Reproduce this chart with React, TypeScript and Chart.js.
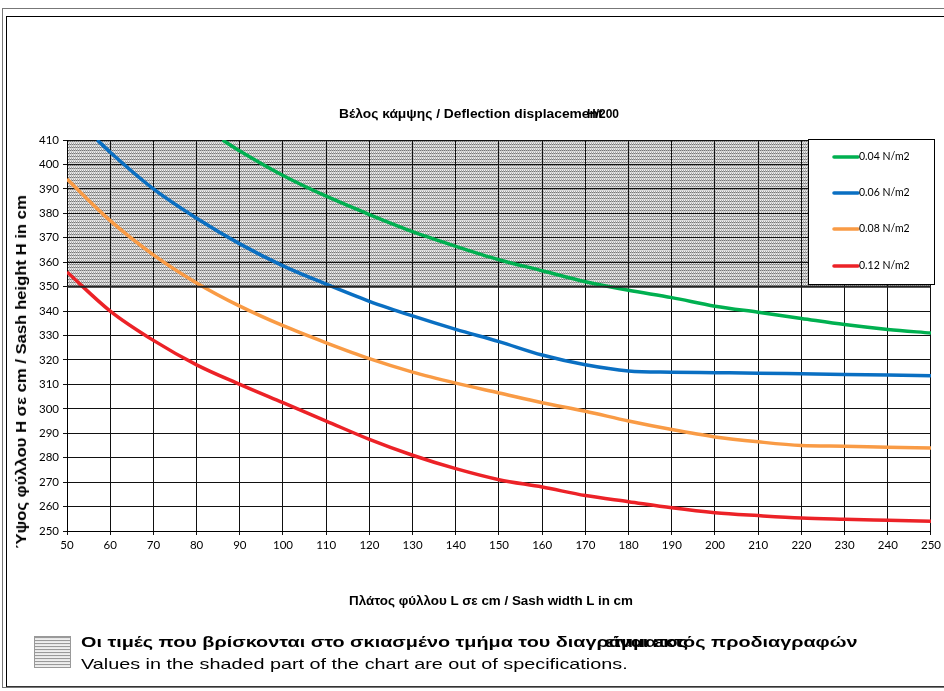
import React, { useEffect, useRef } from "react";
import { Chart, registerables } from "chart.js";

Chart.register(...registerables);

// ---- Data ----
const seriesLabels = ["0.04 N/m2", "0.06 N/m2", "0.08 N/m2", "0.12 N/m2"];
const seriesColors = ["#00B050", "#0A6FC2", "#F99B45", "#EC2227"];

const greenL = [86, 90, 100, 110, 120, 130, 140, 150, 160, 170, 180, 190, 200, 210, 220, 230, 240, 250];
const greenH = [410, 405.5, 395.5, 387, 379.5, 372.5, 366.5, 361, 356.5, 352, 348.5, 345.5, 342, 339.5, 337, 334.5, 332.5, 331];

const blueL = [57, 60, 70, 80, 90, 100, 110, 120, 130, 140, 150, 160, 170, 180, 190, 200, 210, 220, 230, 240, 250];
const blueH = [410, 405, 390, 378, 367.5, 358.5, 351, 344, 338, 332.5, 327.5, 322, 318, 315.5, 315, 314.8, 314.6, 314.3, 314, 313.8, 313.5];

const orangeL = [50, 60, 70, 80, 90, 100, 110, 120, 130, 140, 150, 160, 170, 180, 190, 200, 210, 220, 230, 240, 250];
const orangeH = [394, 377, 363, 351.5, 342, 334, 327, 320.5, 315, 310.5, 306.5, 302.5, 299, 295, 291.5, 288.5, 286.5, 285, 284.7, 284.3, 284];

const redL = [50, 60, 70, 80, 90, 100, 110, 120, 130, 140, 150, 160, 170, 180, 190, 200, 210, 220, 230, 240, 250];
const redH = [356, 340, 328, 318, 310, 302.5, 295, 287.5, 281, 275.5, 271, 268, 264.5, 262, 259.5, 257.5, 256.3, 255.3, 254.8, 254.4, 254];

const xMin = 50;
const xMax = 250;
const yMin = 250;
const yMax = 410;
const tickStep = 10;
const shadedFrom = 350; // out-of-spec band: 350 .. 410

const titleText = "Βέλος κάμψης  / Deflection displacement";
const titleOverlay = "H/200";
const yAxisTitle = "Ύψος φύλλου H σε cm / Sash height H in cm";
const xAxisTitle = "Πλάτος φύλλου L σε cm / Sash width L in cm";
const noteGreek = "Οι τιμές που βρίσκονται στο σκιασμένο τμήμα του διαγράμματος";
const noteGreekOverlay = "είναι εκτός προδιαγραφών";
const noteEnglish = "Values in the shaded part of the chart are out of specifications.";

const toPoints = (xs: number[], ys: number[]) => xs.map((x, i) => ({ x, y: ys[i] }));

function makeHatch(ctx: CanvasRenderingContext2D) {
  const c = document.createElement("canvas");
  c.width = 2;
  c.height = 3;
  const g = c.getContext("2d")!;
  const px = [
    ["#767676", "#b0b0b0"],
    ["#dedede", "#d0d0d0"],
    ["#f2f2f2", "#a4a4a4"],
  ];
  for (let y = 0; y < 3; y++)
    for (let x = 0; x < 2; x++) {
      g.fillStyle = px[y][x];
      g.fillRect(x, y, 1, 1);
    }
  return ctx.createPattern(c, "repeat");
}

const shadePlugin = {
  id: "shade",
  beforeDraw(chart: any) {
    const { ctx, chartArea } = chart;
    const ys = chart.scales.y;
    const top = ys.getPixelForValue(yMax);
    const bot = ys.getPixelForValue(shadedFrom);
    ctx.save();
    const p = makeHatch(ctx);
    if (p) ctx.fillStyle = p;
    ctx.fillRect(chartArea.left, top, chartArea.right - chartArea.left, bot - top);
    ctx.restore();
  },
  afterDraw(chart: any) {
    const { ctx, chartArea } = chart;
    const ys = chart.scales.y;
    const bot = ys.getPixelForValue(shadedFrom);
    ctx.save();
    ctx.strokeStyle = "#222";
    ctx.lineWidth = 2;
    ctx.beginPath();
    ctx.moveTo(chartArea.left, bot);
    ctx.lineTo(chartArea.right, bot);
    ctx.stroke();
    // legend box
    const bx = chartArea.right - 123;
    const by = chartArea.top - 1;
    const bw = 126;
    const bh = 145;
    ctx.fillStyle = "#fff";
    ctx.fillRect(bx, by, bw, bh);
    ctx.strokeStyle = "#000";
    ctx.lineWidth = 1;
    ctx.strokeRect(bx + 0.5, by + 0.5, bw, bh);
    const offs = [18, 54, 90, 127];
    chart.data.datasets.forEach((ds: any, i: number) => {
      const cy = by + offs[i];
      ctx.strokeStyle = ds.borderColor;
      ctx.lineWidth = 3.5;
      ctx.lineCap = "round";
      ctx.beginPath();
      ctx.moveTo(bx + 26, cy);
      ctx.lineTo(bx + 50, cy);
      ctx.stroke();
      ctx.fillStyle = "#000";
      ctx.font = "10.5px Lato";
      ctx.textBaseline = "middle";
      ctx.textAlign = "left";
      ctx.fillText(ds.label, bx + 51, cy);
    });
    ctx.restore();
  },
};

export default function App() {
  const ref = useRef<HTMLCanvasElement>(null);

  useEffect(() => {
    if (!ref.current) return;
    const datasets = [
      toPoints(greenL, greenH),
      toPoints(blueL, blueH),
      toPoints(orangeL, orangeH),
      toPoints(redL, redH),
    ].map((data, i) => ({
      label: seriesLabels[i],
      data,
      borderColor: seriesColors[i],
      backgroundColor: seriesColors[i],
      borderWidth: 3.5,
      pointRadius: 0,
      cubicInterpolationMode: "monotone" as const,
      fill: false,
    }));

    const chart = new Chart(ref.current, {
      type: "line",
      data: { datasets },
      plugins: [shadePlugin],
      options: {
        responsive: false,
        animation: false,
        events: [],
        layout: { padding: { top: 140, right: 13, left: 0, bottom: 0 } },
        plugins: { legend: { display: false }, tooltip: { enabled: false } },
        scales: {
          x: {
            type: "linear",
            min: xMin,
            max: xMax,
            afterFit: (s: any) => {
              s.height = 160;
            },
            ticks: {
              stepSize: tickStep,
              color: "#000",
              font: { family: "Lato", size: 11.5 },
              padding: 3,
              maxRotation: 0,
            },
            grid: { color: "#111", lineWidth: 1, tickLength: 4 },
            border: { color: "#000", width: 1 },
          },
          y: {
            type: "linear",
            min: yMin,
            max: yMax,
            afterFit: (s: any) => {
              s.width = 67;
            },
            ticks: {
              stepSize: tickStep,
              color: "#000",
              font: { family: "Lato", size: 11.5 },
              padding: 4,
            },
            grid: { color: "#111", lineWidth: 1, tickLength: 4 },
            border: { color: "#000", width: 1 },
          },
        },
      },
    });
    return () => chart.destroy();
  }, []);

  const arialB = (px: number) => `bold ${px}px 'Liberation Sans', Arial, sans-serif`;
  const nowrap = { whiteSpace: "nowrap" as const };
  return (
    <div style={{ position: "absolute", left: 0, top: 0, width: 944, height: 691, overflow: "hidden", background: "#fff" }}>
      <div style={{ position: "absolute", left: 2, top: 8, width: 1000, height: 680, border: "1.5px solid #777", boxSizing: "border-box" }} />
      <div style={{ position: "absolute", left: 6, top: 16, width: 1000, height: 671, borderTop: "1.5px solid #000", borderLeft: "1px solid #000", borderBottom: "1px solid #333", boxSizing: "border-box" }} />
      <canvas ref={ref} width={944} height={691} style={{ position: "absolute", left: 0, top: 0 }} />
      <div style={{ ...nowrap, position: "absolute", left: 339, top: 108, font: arialB(12), lineHeight: "12px", transform: "scaleX(1.15)", transformOrigin: "left center" }}>
        {titleText}
      </div>
      <div style={{ ...nowrap, position: "absolute", left: 587, top: 108, font: arialB(12), lineHeight: "12px" }}>{titleOverlay}</div>
      <div
        style={{
          ...nowrap,
          position: "absolute",
          left: 21,
          top: 372,
          font: arialB(14),
          lineHeight: "14px",
          transform: "translate(-50%, -50%) rotate(-90deg) scaleX(1.19)",
        }}
      >
        {yAxisTitle}
      </div>
      <div style={{ ...nowrap, position: "absolute", left: 491, top: 600, font: arialB(13.4), transform: "translate(-50%, -50%)" }}>
        {xAxisTitle}
      </div>
      <div
        style={{
          position: "absolute",
          left: 34,
          top: 636,
          width: 37,
          height: 32,
          boxSizing: "border-box",
          border: "1px solid #999",
          background: "repeating-linear-gradient(to bottom, #9a9a9a 0px, #9a9a9a 1px, #e4e4e4 1px, #f2f2f2 3px)",
        }}
      />
      <div style={{ ...nowrap, position: "absolute", left: 81, top: 634, font: arialB(15), lineHeight: "15px", transform: "scaleX(1.32)", transformOrigin: "left center" }}>
        {noteGreek}
      </div>
      <div style={{ ...nowrap, position: "absolute", right: 87, top: 634, font: arialB(15), lineHeight: "15px", transform: "scaleX(1.32)", transformOrigin: "right center" }}>
        {noteGreekOverlay}
      </div>
      <div style={{ ...nowrap, position: "absolute", left: 81, top: 656, font: "15px 'Liberation Sans', Arial, sans-serif", lineHeight: "15px", transform: "scaleX(1.32)", transformOrigin: "left center" }}>
        {noteEnglish}
      </div>
    </div>
  );
}
